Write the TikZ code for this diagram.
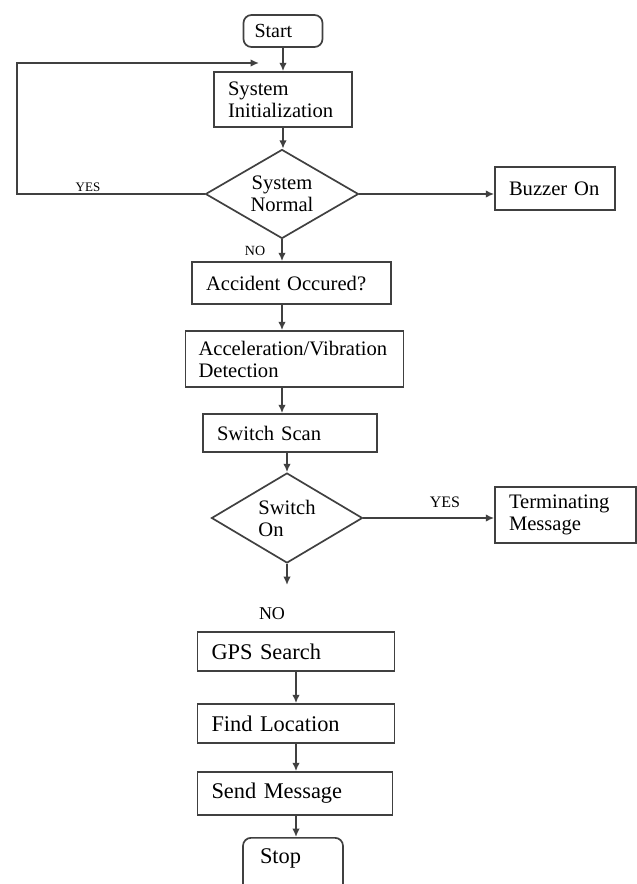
\documentclass[tikz,border=0pt]{standalone}
\usepackage{fontspec}
\setmainfont{Liberation Serif}
\usetikzlibrary{shapes.geometric,arrows.meta}
\begin{document}
\begin{tikzpicture}[x=0.5pt,y=-0.5pt]

\tikzset{
block/.style={rectangle,draw=black!75,line width=0.85pt,inner xsep=7pt,inner ysep=0pt,align=left,font={\fontsize{10.3pt}{11pt}\selectfont}},
lowblock/.style={block,font={\fontsize{11.2pt}{12pt}\selectfont}},
ends/.style={block,rounded corners=4pt},
decision/.style={diamond,draw=black!75,line width=0.85pt,inner sep=0pt,shape aspect=1.7,font={\fontsize{10.3pt}{11pt}\selectfont}},
lbl/.style={inner sep=0pt},
flow/.style={->,> = {Latex[length=4.2pt,width=3.8pt]},line width=0.85pt,draw=black!75}
}
\useasboundingbox (0,0) rectangle (637,884);

% vertices
\node[ends, inner xsep=5.5pt, text width=28.5pt, minimum height=16pt, font={\fontsize{10pt}{11pt}\selectfont}] (start) at (283,31) {Start};
\node[block, text width=55pt, minimum height=27.5pt] (init) at (283,99.5) {System\\Initialization};
\node[decision, align=center, minimum width=76.5pt, minimum height=44.5pt] (normal) at (282,194) {System\\Normal};
\node[block, text width=46pt, minimum height=21.5pt] (buzzer) at (555,188.5) {Buzzer On};
\node[block, text width=85.5pt, minimum height=21pt] (accident) at (291.5,283) {Accident Occured?};
\node[block, inner xsep=6.5pt, text width=96pt, minimum height=28pt] (accel) at (294.5,359) {Acceleration/Vibration\\Detection};
\node[block, text width=73pt, minimum height=19pt] (scan) at (290,433) {Switch Scan};
\node[decision, align=left, minimum width=75.5pt, minimum height=45pt] (switch) at (287,518) {Switch\\On};
\node[block, text width=56.5pt, minimum height=28pt] (term) at (565.5,515) {Terminating\\Message};
\node[lowblock, text width=84.5pt, minimum height=19.5pt] (gps) at (296,651.5) {GPS Search};
\node[lowblock, text width=84.5pt, minimum height=19.5pt] (find) at (296,723.5) {Find Location};
\node[lowblock, text width=83.5pt, minimum height=21.5pt] (send) at (295,793.5) {Send Message};
\node[ends, font={\fontsize{11.2pt}{12pt}\selectfont}, inner xsep=8.5pt, inner ysep=5pt, text width=33pt, text height=8pt, text depth=16pt, anchor=north] (stop) at (293,837) {Stop};

% labels
\node[lbl, font={\fontsize{6.5pt}{7pt}\selectfont}] (yes1) at (88,187) {YES};
\node[lbl, font={\fontsize{7pt}{8pt}\selectfont}] (no1) at (255,251) {NO};
\node[lbl, font={\fontsize{8pt}{9pt}\selectfont}] (yes2) at (445,502) {YES};
\node[lbl, font={\fontsize{9pt}{10pt}\selectfont}] (no2) at (272,614) {NO};

\coordinate (loopleft) at (17,63);
\coordinate (loopin) at (259,63);
\coordinate (dangle) at (287,585);

%edges
\draw[flow] (start) -- (start |- init.north);
\draw[flow] (init) -- (init |- normal.north);
\draw[flow] (normal.east) -- (normal.east -| buzzer.west);
\draw[flow] (normal) -- (normal |- accident.north);
\draw[flow] (accident.south -| normal) -- (accel.north -| normal);
\draw[flow] (accel.south -| normal) -- (scan.north -| normal);
\draw[flow] (scan.south -| switch) -- (switch.north);
\draw[flow] (switch.east) -- (switch.east -| term.west);
\draw[flow] (switch.south) -- (dangle);
\draw[flow] (gps) -- (gps |- find.north);
\draw[flow] (find) -- (find |- send.north);
\draw[flow] (send.south -| find) -- (find |- stop.north);
\draw[flow] (normal.west) -| (loopleft) -- (loopin);

\end{tikzpicture}
\end{document}
